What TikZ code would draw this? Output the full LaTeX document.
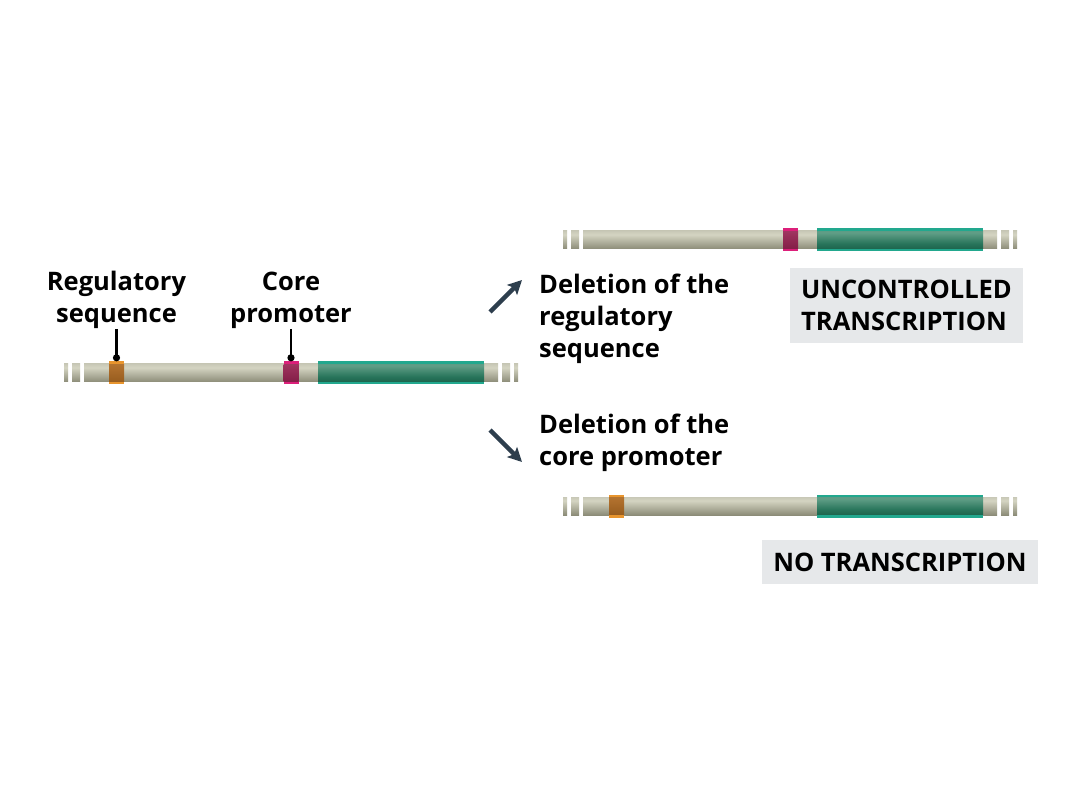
\documentclass[tikz,border=0pt]{standalone}
\usepackage{fontspec}
\setmainfont{Open Sans}
\usetikzlibrary{arrows.meta, positioning, calc}

\definecolor{arrowgrey}{HTML}{2D3E4D}
\definecolor{boxgrey}{HTML}{E6E8EA}
\definecolor{tealedge}{HTML}{22A88E}
\definecolor{pinkedge}{HTML}{DC1F7A}
\definecolor{orangeedge}{HTML}{E8952E}

% colour ramps, bottom to top
\pgfdeclareverticalshading{rodramp}{100bp}{rgb(0bp)=(0.35,0.35,0.29); rgb(25bp)=(0.55,0.55,0.47); rgb(65bp)=(0.83,0.83,0.76); rgb(90bp)=(0.72,0.72,0.65); rgb(100bp)=(0.60,0.60,0.53)}
\pgfdeclareverticalshading{generamp}{100bp}{rgb(0bp)=(0.04,0.29,0.21); rgb(40bp)=(0.16,0.46,0.36); rgb(72bp)=(0.38,0.62,0.53); rgb(100bp)=(0.28,0.56,0.47)}
\pgfdeclareverticalshading{pinkramp}{100bp}{rgb(0bp)=(0.42,0.05,0.20); rgb(60bp)=(0.60,0.18,0.35); rgb(100bp)=(0.70,0.30,0.47)}
\pgfdeclareverticalshading{orangeramp}{100bp}{rgb(0bp)=(0.50,0.29,0.06); rgb(60bp)=(0.68,0.43,0.17); rgb(100bp)=(0.77,0.52,0.25)}

\begin{document}
\begin{tikzpicture}[
x=1pt, y=1pt,
font=\fontsize{25.5}{32}\selectfont\bfseries,
label/.style={inner sep=0pt, align=center},
caption/.style={inner sep=0pt, align=left},
resultbox/.style={fill=boxgrey, inner sep=0pt, align=left},
sitebox/.style={minimum width=15pt, minimum height=23pt, inner sep=0pt},
regbox/.style={sitebox, fill=orangeedge, path picture={
  \shade[shading=orangeramp] ($(path picture bounding box.west)+(0,-8.5)$) rectangle ($(path picture bounding box.east)+(0,8.5)$);}},
corebox/.style={sitebox, fill=pinkedge, path picture={
  \shade[shading=pinkramp] ($(path picture bounding box.west)+(0,-8.5)$) rectangle ($(path picture bounding box.east)+(0,8.5)$);}},
pointer/.style={-{Circle[length=7pt]}, line width=2.6pt},
turn/.style={-{Stealth[length=14pt, width=14pt, inset=3pt]}, line width=4.5pt, arrowgrey},
pics/strand/.style={code={
  \foreach \a/\b in {0/4, 8/16, 20/434, 438/446, 450/454}
    \shade[shading=rodramp] (\a,-9) rectangle (\b,9);
  \fill[tealedge] (254,-11.5) rectangle (420,11.5);
  \shade[shading=generamp] (254,-8.5) rectangle (420,8.5);
}}
]
\useasboundingbox[fill=white] (0,0) rectangle (1080,-810);

% original gene
\pic at (64,-373) {strand};
\node[regbox] (regMain) at (116.5,-373) {};
\node[corebox] (coreMain) at (291,-373) {};

\node[label, anchor=south] (regLabel) at (116.5,-329) {Regulatory\\sequence};
\node[label, anchor=south] (coreLabel) at (291,-329) {Core\\promoter};
\draw[pointer] (regLabel.south) -- (regMain.north);
\draw[pointer] (coreLabel.south) -- (coreMain.north);

% the two deletions
\coordinate (upFrom) at (490,-312);
\coordinate (upTo) at (522,-280);
\coordinate (downFrom) at (490,-430);
\coordinate (downTo) at (522,-462);
\draw[turn] (upFrom) -- (upTo);
\draw[turn] (downFrom) -- (downTo);

\node[caption, anchor=north west] (delReg) at (539,-274) {Deletion of the\\regulatory\\sequence};
\node[caption, anchor=north west] (delCore) at (539,-414) {Deletion of the\\core promoter};

% regulatory sequence removed
\pic at (563,-240) {strand};
\node[corebox] (coreTop) at (790.5,-240) {};
\node[resultbox, minimum width=233pt, minimum height=75pt] (uncontrolled) at (906.5,-305.5)
  {UNCONTROLLED\\TRANSCRIPTION};

% core promoter removed
\pic at (563,-506) {strand};
\node[regbox] (regBottom) at (616.5,-506) {};
\node[resultbox, minimum width=276pt, minimum height=44pt] (none) at (900,-562)
  {NO TRANSCRIPTION};

\end{tikzpicture}
\end{document}
